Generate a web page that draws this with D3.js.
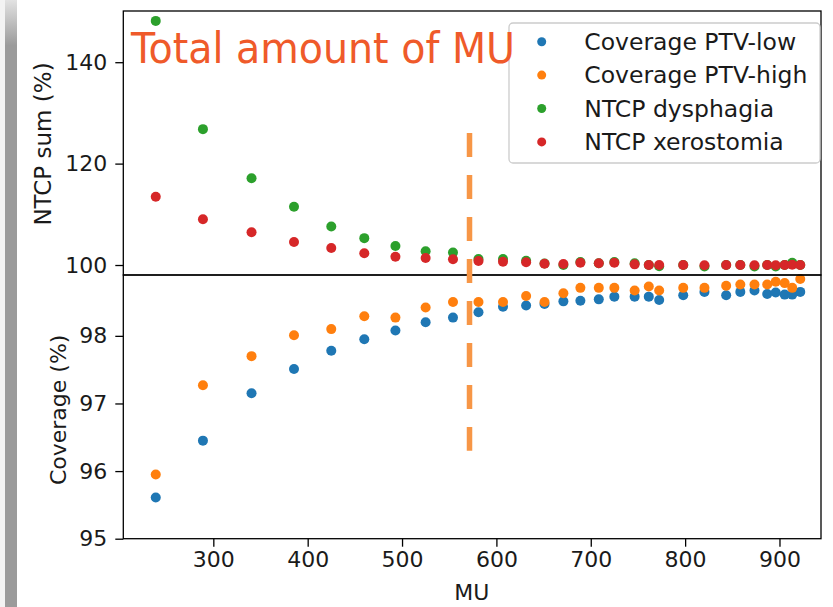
<!DOCTYPE html>
<html>
<head>
<meta charset="utf-8">
<script src="https://cdn.jsdelivr.net/npm/d3@7"></script>
<style>
  body { margin: 0; background: #fff; }
  text { font-family: "DejaVu Sans", sans-serif; fill: #1a1a1a; }
</style>
</head>
<body>
<svg id="chart" width="833" height="607"></svg>
<script>
// MU per plan
const mu = [239, 289, 340.5, 385.5, 425, 460, 493, 525, 554, 581, 607, 631.5, 651, 671, 689,
  708.5, 725, 746.5, 761.5, 772.5, 798, 820.5, 843.5, 858.5, 873.5, 887, 896, 905.5, 913.5, 922];

// coverage (%) - bottom panel
const covLow = [95.61, 96.45, 97.15, 97.51, 97.78, 97.95, 98.08, 98.20, 98.27, 98.35, 98.43, 98.45,
  98.47, 98.51, 98.52, 98.54, 98.58, 98.58, 98.58, 98.53, 98.60, 98.65, 98.60, 98.65, 98.67, 98.62,
  98.64, 98.61, 98.61, 98.65];
const covHigh = [95.95, 97.27, 97.70, 98.01, 98.10, 98.29, 98.27, 98.42, 98.50, 98.50, 98.50, 98.59,
  98.50, 98.63, 98.71, 98.71, 98.71, 98.67, 98.73, 98.67, 98.71, 98.71, 98.74, 98.76, 98.76, 98.76,
  98.80, 98.78, 98.71, 98.84];

// NTCP sum (%) - top panel
const ntcpDys = [148.15, 126.8, 117.1, 111.5, 107.6, 105.3, 103.75, 102.7, 102.45, 101.2, 101.2, 100.85,
  100.3, 100.0, 100.6, 100.35, 100.6, 100.35, 100.0, 99.75, 100.0, 99.7, 100.0, 100.0, 99.7, 100.0,
  99.7, 100.0, 100.45, 100.0];
const ntcpXer = [113.48, 109.02, 106.45, 104.54, 103.35, 102.31, 101.64, 101.38, 101.12, 100.79, 100.65,
  100.53, 100.26, 100.2, 100.46, 100.33, 100.46, 100.13, 100, 100, 100, 99.94, 100, 100, 99.94, 100,
  99.94, 100, 100.06, 100];

const xTicks = [300, 400, 500, 600, 700, 800, 900];
const topTicks = [100, 120, 140];
const botTicks = [95, 96, 97, 98];

const seriesNames = ["Coverage PTV-low", "Coverage PTV-high", "NTCP dysphagia", "NTCP xerostomia"];
const seriesColors = ["#1f77b4", "#ff7f0e", "#2ca02c", "#d62728"];

// the slide overlay: title + dashed marker
const overlayTitle = "Total amount of MU";
const overlayMU = 571.5;

const svg = d3.select("#chart");

// grey strip from the slide on the left
const defs = svg.append("defs");
const grad = defs.append("linearGradient").attr("id", "strip").attr("x1", 0).attr("x2", 0).attr("y1", 0).attr("y2", 1);
grad.append("stop").attr("offset", "0%").attr("stop-color", "#e2e2e2");
grad.append("stop").attr("offset", "7.5%").attr("stop-color", "#9b9b9b");
grad.append("stop").attr("offset", "100%").attr("stop-color", "#9b9b9b");
svg.append("rect").attr("x", 0).attr("y", 0).attr("width", 17).attr("height", 607).attr("fill", "#f3f3f3");
svg.append("rect").attr("x", 5).attr("y", 0).attr("width", 12).attr("height", 607).attr("fill", "url(#strip)");

const padL = 123.3, padR = 821, padT = 11, midY = 275, padB = 538.7;

const x = d3.scaleLinear().domain([204.6, 944]).range([padL, padR]);
const yTop = d3.scaleLinear().domain([98.03, 150.1]).range([midY, padT]);
const yBot = d3.scaleLinear().domain([95, 98.9]).range([padB, midY]);

const fs = 22;

function styleAxis(g) {
  g.select(".domain").remove();
  g.selectAll(".tick line").attr("stroke", "#000").attr("stroke-width", 1.3);
  g.selectAll(".tick text").attr("font-size", fs).attr("font-family", "DejaVu Sans").attr("fill", "#1a1a1a");
}

// axes
svg.append("g").attr("transform", `translate(${padL},0)`)
  .call(d3.axisLeft(yTop).tickValues(topTicks).tickSize(8).tickPadding(8).tickFormat(d3.format("d")))
  .call(styleAxis);
svg.append("g").attr("transform", `translate(${padL},0)`)
  .call(d3.axisLeft(yBot).tickValues(botTicks).tickSize(8).tickPadding(8).tickFormat(d3.format("d")))
  .call(styleAxis);
svg.append("g").attr("transform", `translate(0,${padB})`)
  .call(d3.axisBottom(x).tickValues(xTicks).tickSize(8).tickPadding(5).tickFormat(d3.format("d")))
  .call(styleAxis);

// points
function dots(values, yScale, color) {
  svg.append("g").selectAll("circle")
    .data(values)
    .enter()
    .append("circle")
    .attr("cx", (d, i) => x(mu[i]))
    .attr("cy", d => yScale(d))
    .attr("r", 5)
    .attr("fill", color);
}
dots(covLow, yBot, seriesColors[0]);
dots(covHigh, yBot, seriesColors[1]);
dots(ntcpDys, yTop, seriesColors[2]);
dots(ntcpXer, yTop, seriesColors[3]);

// spines
svg.append("rect").attr("x", padL).attr("y", padT).attr("width", padR - padL).attr("height", midY - padT)
  .attr("fill", "none").attr("stroke", "#000").attr("stroke-width", 1.3);
svg.append("rect").attr("x", padL).attr("y", midY).attr("width", padR - padL).attr("height", padB - midY)
  .attr("fill", "none").attr("stroke", "#000").attr("stroke-width", 1.3);

// axis labels
svg.append("text").attr("transform", `translate(43,${(padT + midY) / 2 + 1}) rotate(-90)`)
  .attr("text-anchor", "middle").attr("dominant-baseline", "central").attr("font-size", 23)
  .text("NTCP sum (%)");
svg.append("text").attr("transform", `translate(58,${(midY + padB) / 2 + 3}) rotate(-90)`)
  .attr("text-anchor", "middle").attr("dominant-baseline", "central").attr("font-size", fs)
  .text("Coverage (%)");
svg.append("text").attr("x", x(574)).attr("y", 599.5).attr("text-anchor", "middle").attr("font-size", fs)
  .text("MU");

// legend
const lg = svg.append("g");
lg.append("rect").attr("x", 509).attr("y", 23).attr("width", 311).attr("height", 140).attr("rx", 4)
  .attr("fill", "#fff").attr("fill-opacity", 0.8).attr("stroke", "#cccccc").attr("stroke-width", 1.3);
const items = lg.selectAll("g.item").data(seriesNames).enter().append("g")
  .attr("transform", (d, i) => `translate(0,${41.7 + i * 33.4})`);
items.append("circle").attr("cx", 541.7).attr("cy", 0).attr("r", 4.5).attr("fill", (d, i) => seriesColors[i]);
items.append("text").attr("x", 584.3).attr("y", 0).attr("dominant-baseline", "central")
  .attr("font-size", 23.5).text(d => d);

// overlay: dashed orange marker and title
svg.append("line")
  .attr("x1", x(overlayMU)).attr("x2", x(overlayMU))
  .attr("y1", yTop(126.05)).attr("y2", yBot(96.3))
  .attr("stroke", "#f79646").attr("stroke-width", 5.5).attr("stroke-dasharray", "24,18");

svg.append("text").attr("x", 131).attr("y", 63.3)
  .attr("font-family", "'Open Sans', Lato, sans-serif").attr("font-size", 42)
  .attr("textLength", 384).attr("lengthAdjust", "spacingAndGlyphs")
  .style("fill", "#ef5a2a")
  .text(overlayTitle);
</script>
</body>
</html>
